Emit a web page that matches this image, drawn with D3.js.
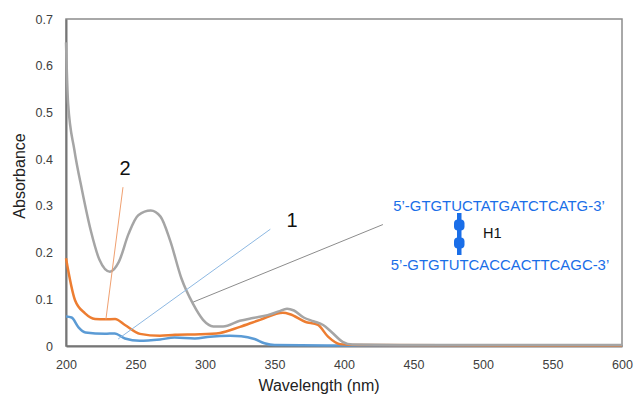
<!DOCTYPE html>
<html><head><meta charset="utf-8">
<script src="https://cdn.jsdelivr.net/npm/d3@7"></script>
<style>body{margin:0;background:#fff}svg{display:block}text{font-family:"Liberation Sans",Arial,sans-serif}</style>
</head><body>
<svg id="c" width="634" height="396"></svg>
<script>
const xTicks = [200,250,300,350,400,450,500,550,600];
const yTicks = [0,0.1,0.2,0.3,0.4,0.5,0.6,0.7];
const yTickLabels = ["0","0.1","0.2","0.3","0.4","0.5","0.6","0.7"];
const graySeries = [[200,0.65],[201.5,0.52],[206,0.42],[211.5,0.334],[218,0.245],[224,0.185],[231.6,0.159],[238,0.18],[245,0.24],[252,0.28],[261,0.29],[268,0.277],[275,0.225],[283,0.145],[291.4,0.09],[298.6,0.056],[306,0.042],[313,0.042],[325,0.054],[334.5,0.06],[345,0.066],[353,0.074],[359,0.08],[364,0.076],[371,0.061],[378,0.053],[385,0.045],[391,0.03],[399,0.009],[406,0.003],[450,0.002],[600,0.002]];
const orangeSeries = [[200,0.188],[206.5,0.098],[213.7,0.07],[220.9,0.058],[228,0.057],[235.3,0.058],[242.4,0.045],[253.2,0.026],[267.6,0.022],[278.4,0.024],[296.4,0.025],[310.8,0.028],[325.2,0.041],[339.6,0.056],[356.1,0.071],[361.2,0.068],[372,0.052],[381.3,0.045],[388.5,0.02],[397.1,0.004],[410,0.002],[600,0.001]];
const blueSeries = [[200,0.063],[204,0.061],[209,0.04],[214,0.029],[228,0.026],[235,0.027],[242.4,0.016],[253,0.011],[267.6,0.014],[278,0.018],[292.7,0.016],[303.5,0.02],[318,0.022],[326,0.021],[335.6,0.015],[342.8,0.006],[350,0.002],[400,0.001],[600,0.001]];
const seqTop = "5\u2019-GTGTUCTATGATCTCATG-3\u2019";
const seqBottom = "5\u2019-GTGTUTCACCACTTCAGC-3\u2019";

const svg = d3.select("#c");
const L=66,R=622,T=19,B=346;
const x = d3.scaleLinear().domain([200,600]).range([L,R]);
const y = d3.scaleLinear().domain([0,0.7]).range([B,T]);

svg.append("rect").attr("x",L).attr("y",T).attr("width",R-L).attr("height",B-T)
  .attr("fill","none").attr("stroke","#8c8c8c").attr("stroke-width",1.5);

const xa = svg.append("g").attr("transform",`translate(0,${B})`)
  .call(d3.axisBottom(x).tickValues(xTicks).tickSize(0).tickPadding(14));
xa.select(".domain").attr("stroke","#767676").attr("stroke-width",2);
xa.selectAll("text").attr("font-size",12.5).attr("fill","#404040");

const ya = svg.append("g").attr("transform",`translate(${L},0)`)
  .call(d3.axisLeft(y).tickValues(yTicks).tickFormat((d,i)=>yTickLabels[i]).tickSize(0).tickPadding(13));
ya.select(".domain").attr("stroke","#767676").attr("stroke-width",2);
ya.selectAll("text").attr("font-size",12.5).attr("fill","#404040");

svg.append("text").attr("x",319).attr("y",391).attr("text-anchor","middle")
  .attr("font-size",16).attr("fill","#222").text("Wavelength (nm)");
svg.append("text").attr("transform","translate(25,176) rotate(-90)").attr("text-anchor","middle")
  .attr("font-size",16).attr("fill","#222").text("Absorbance");

const line = d3.line().x(d=>x(d[0])).y(d=>y(d[1])).curve(d3.curveMonotoneX);
[[blueSeries,"#5B9BD5"],[orangeSeries,"#ED7D31"],[graySeries,"#A5A5A5"]].forEach(([s,c])=>{
  svg.append("path").datum(s).attr("d",line).attr("fill","none").attr("stroke",c).attr("stroke-width",2.5);
});

// leader lines (anchored in data space)
const lead = [
  {from:[228.7,0.057],to:[241,0.34],c:"#F0A070"},
  {from:[237.5,0.015],to:[347,0.25],c:"#8DB8E2"},
  {from:[291.5,0.094],to:[428,0.26],c:"#8c8c8c"}
];
lead.forEach(l=>svg.append("line").attr("x1",x(l.from[0])).attr("y1",y(l.from[1]))
  .attr("x2",x(l.to[0])).attr("y2",y(l.to[1])).attr("stroke",l.c).attr("stroke-width",1));

svg.append("text").attr("x",125).attr("y",175).attr("text-anchor","middle").attr("font-size",20).attr("fill","#111").text("2");
svg.append("text").attr("x",292).attr("y",227).attr("text-anchor","middle").attr("font-size",20).attr("fill","#111").text("1");

const seqFont = "'Open Sans',sans-serif";
svg.append("text").attr("x",499).attr("y",211).attr("text-anchor","middle").attr("font-size",14.9).attr("font-family",seqFont).attr("fill","#1a6ee8").text(seqTop);
svg.append("text").attr("x",500).attr("y",270).attr("text-anchor","middle").attr("font-size",14.9).attr("font-family",seqFont).attr("fill","#1a6ee8").text(seqBottom);
svg.append("rect").attr("x",457).attr("y",213).attr("width",4.5).attr("height",42).attr("fill","#1a6ee8");
[225,243].forEach(cy=>svg.append("rect").attr("x",454).attr("y",cy-5.5).attr("width",10.5).attr("height",11).attr("rx",4).attr("fill","#1a6ee8"));
svg.append("text").attr("x",483).attr("y",238).attr("font-size",14.5).attr("font-family",seqFont).attr("fill","#111").text("H1");
</script>
</body></html>
